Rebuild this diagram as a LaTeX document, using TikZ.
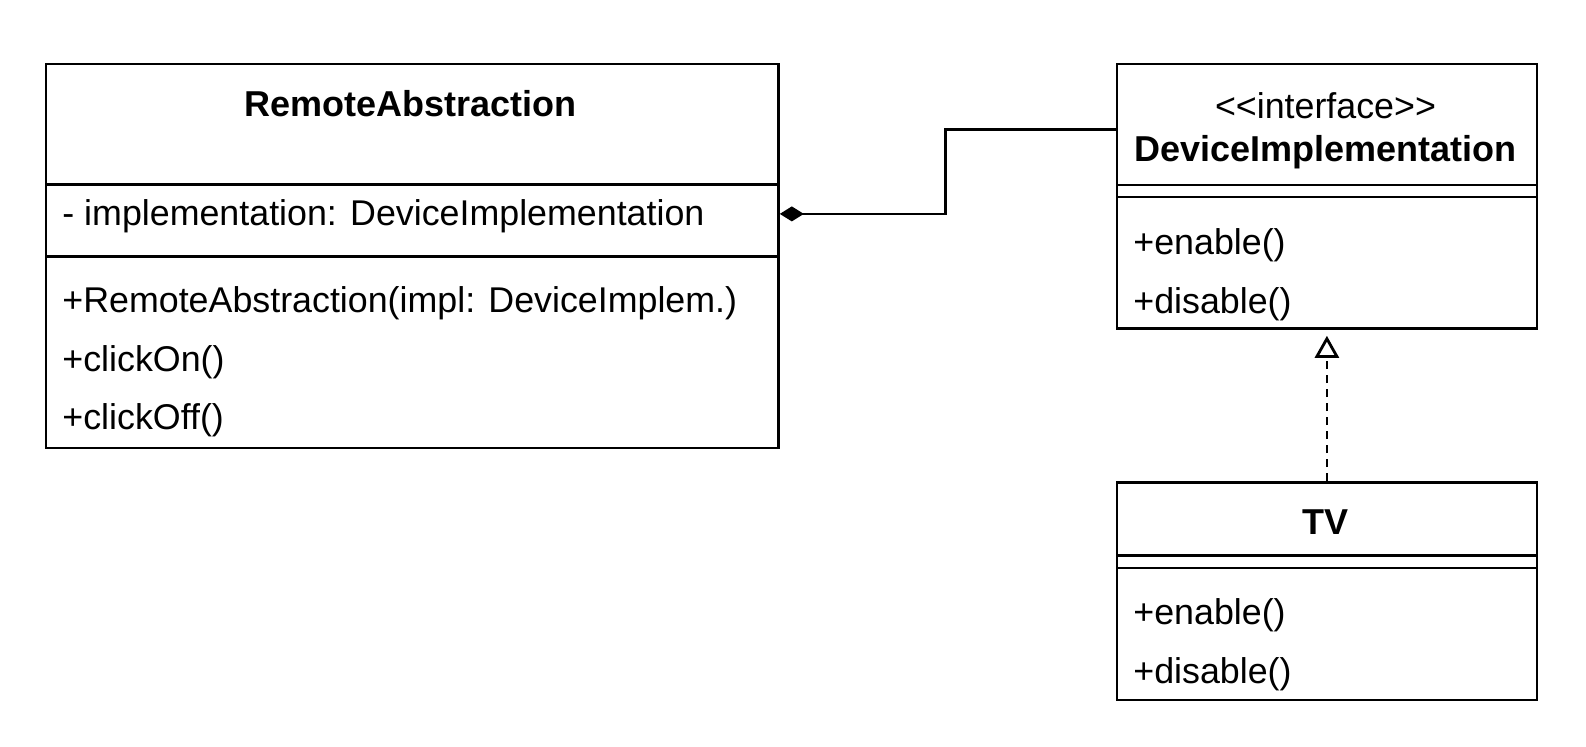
\documentclass[tikz,border=0pt]{standalone}
\usepackage{fontspec}
\newfontfamily\umlfont{Liberation Sans}
\usepackage{tikz}
\usetikzlibrary{positioning, arrows.meta, calc}

\tikzset{
	compart/.style={draw, line width=1.4pt, inner sep=0pt, anchor=north west},
	member/.style={inner sep=0pt, anchor=west},
	title/.style={inner sep=0pt, font=\umlfont\fontsize{18pt}{21pt}\selectfont\bfseries}
}

\begin{document}
\begin{tikzpicture}[x=0.5pt, y=0.5pt, every node/.style={font=\umlfont\fontsize{17.9pt}{21pt}\selectfont}]
				
				\useasboundingbox (0,0) rectangle (1586,-746);
				
				\node [compart, minimum width=366.25pt, minimum height=60.25pt] (ra-head) at (44.5,-62.5) {};
				\node [compart, minimum width=366.25pt, minimum height=36pt] (ra-attr) at (44.5,-183) {};
				\node [compart, minimum width=366.25pt, minimum height=95.75pt] (ra-ops) at (44.5,-255) {};
				
				\node [compart, minimum width=210pt, minimum height=60.5pt] (di-head) at (1115.5,-62.5) {};
				\node [compart, minimum width=210pt, minimum height=6pt] (di-attr) at (1115.5,-183.5) {};
				\node [compart, minimum width=210pt, minimum height=65.75pt] (di-ops) at (1115.5,-195.5) {};
				
				\node [compart, minimum width=210pt, minimum height=36.5pt] (tv-head) at (1115.5,-481) {};
				\node [compart, minimum width=210pt, minimum height=6.25pt] (tv-attr) at (1115.5,-554) {};
				\node [compart, minimum width=210pt, minimum height=66pt] (tv-ops) at (1115.5,-566.5) {};
				
				\node [title] (ra-name) at (410.75,-104) {RemoteAbstraction};
				\node [member] (ra-impl) at (62,-216) {- implementation: DeviceImplementation};
				\node [member] (ra-ctor) at (62,-303) {+RemoteAbstraction(impl: DeviceImplem.)};
				\node [member] (ra-on) at (62,-362) {+clickOn()};
				\node [member] (ra-off) at (62,-420) {+clickOff()};
				
				\node [inner sep=0pt] (di-stereo) at (1325.5,-106) {<{}<interface>{}>};
				\node [title] (di-name) at (1325.5,-152) {DeviceImplementation};
				\node [member] (di-enable) at (1133,-245) {+enable()};
				\node [member] (di-disable) at (1133,-304) {+disable()};
				
				\node [title] (tv-name) at (1325.5,-522) {TV};
				\node [member] (tv-enable) at (1133,-615) {+enable()};
				\node [member] (tv-disable) at (1133,-674) {+disable()};
				
				\coordinate (owner) at ([yshift=3.25pt]ra-attr.east);
				\coordinate (bend) at (945.5,0);
				\draw [line width=1.4pt, {Diamond[length=12pt, width=7.5pt]}-] (owner) -- (owner -| bend) |- ([yshift=-2.7pt]di-head.west);
				
				\draw [line width=1.4pt, dash pattern=on 4pt off 3pt, -{Triangle[open, length=11pt, width=12pt]}, shorten >=3pt] (tv-head.north) -- (di-ops.south);
		\end{tikzpicture}
\end{document}
